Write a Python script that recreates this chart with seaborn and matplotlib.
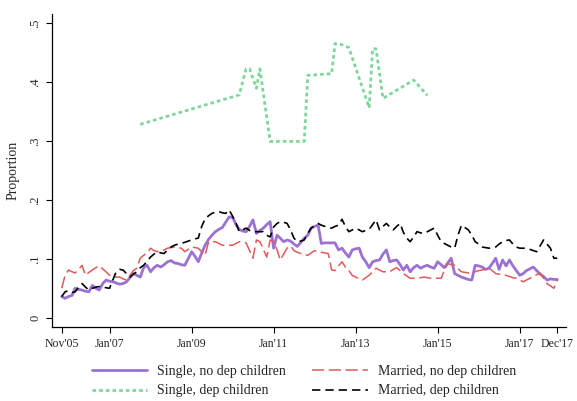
import numpy as np
import pandas as pd
import seaborn as sns
import matplotlib.pyplot as plt

# monthly series, Nov 2005 - Dec 2017
dates = pd.date_range("2005-11-01", "2017-12-01", freq="MS")

single_nodep = [
    .036, .033, .036, .038, .050, .048, .047, .045, .044, .055, .050, .047,
    .058, .064, .062, .061, .059, .057, .058, .061, .068, .075, .072, .069,
    .085, .089, .078, .085, .089, .086, .090, .095, .097, .093, .092, .090,
    .089, .100, .112, .104, .095, .110, .123, .133, .140, .146, .150, .153,
    .162, .171, .170, .158, .150, .147, .146, .155, .166, .143, .148, .152,
    .158, .163, .118, .140, .135, .129, .132, .130, .125, .121, .128, .135,
    .140, .152, .155, .157, .126, .127, .127, .127, .127, .115, .118, .110,
    .103, .115, .117, .118, .103, .095, .085, .095, .097, .098, .108, .115,
    .095, .097, .098, .090, .081, .089, .078, .085, .089, .084, .087, .089,
    .086, .084, .095, .090, .085, .093, .101, .075, .072, .069, .067, .065,
    .064, .089, .088, .086, .082, .084, .092, .101, .082, .098, .088, .098,
    .088, .080, .072, .075, .080, .083, .086, .080, .074, .070, .064, .066,
    .065, .065,
]

married_nodep = [
    .050, .072, .081, .078, .076, .082, .089, .072, .077, .081, .085, .088,
    .083, .078, .072, .069, .069, .069, .066, .064, .072, .080, .084, .101,
    .106, .110, .118, .114, .112, .114, .115, .118, .119, .120, .119, .118,
    .112, .116, .120, .119, .118, .112, .106, .129, .129, .129, .126, .123,
    .123, .123, .123, .126, .129, .128, .127, .114, .101, .132, .129, .116,
    .103, .132, .129, .115, .098, .108, .118, .122, .114, .111, .109, .107,
    .106, .110, .114, .112, .111, .110, .109, .081, .080, .088, .095, .086,
    .080, .072, .069, .066, .064, .068, .072, .078, .084, .081, .078, .078,
    .078, .082, .085, .080, .075, .071, .067, .067, .067, .068, .069, .068,
    .067, .067, .067, .067, .080, .092, .090, .089, .083, .078, .077, .076,
    .077, .078, .080, .081, .083, .084, .080, .075, .074, .073, .072, .070,
    .068, .067, .064, .061, .064, .067, .070, .073, .076, .067, .058, .054,
    .050, .064,
]

married_dep = [
    .036, .044, .046, .043, .044, .052, .058, .052, .047, .050, .052, .053,
    .052, .051, .050, .065, .078, .082, .081, .075, .069, .074, .078, .085,
    .089, .096, .103, .108, .112, .110, .109, .115, .120, .123, .125, .126,
    .128, .130, .132, .134, .135, .155, .168, .173, .177, .179, .180, .178,
    .177, .183, .172, .160, .146, .149, .152, .148, .146, .146, .146, .146,
    .140, .137, .154, .160, .163, .162, .160, .149, .135, .129, .130, .132,
    .143, .152, .156, .160, .157, .155, .153, .152, .155, .157, .167, .155,
    .146, .149, .152, .149, .146, .148, .150, .158, .166, .149, .155, .160,
    .154, .149, .155, .160, .145, .135, .129, .137, .146, .144, .143, .146,
    .149, .152, .140, .129, .126, .123, .120, .118, .140, .157, .153, .149,
    .140, .129, .125, .120, .119, .118, .119, .120, .125, .129, .131, .132,
    .125, .120, .118, .118, .118, .116, .114, .112, .122, .132, .125, .118,
    .101, .101,
]

# single with dependent children: only some months observed
single_dep_dates = [
    "2007-10", "2010-03", "2010-05", "2010-06", "2010-08", "2010-09",
    "2010-12", "2011-10", "2011-11", "2012-06", "2012-07", "2012-09",
    "2012-11", "2013-05", "2013-06", "2013-07", "2013-09", "2014-06",
    "2014-10",
]
single_dep = [
    .328, .378, .422, .422, .389, .422,
    .299, .299, .411, .414, .465, .463,
    .458, .356, .456, .456, .372, .403,
    .377,
]

tick_dates = ["2005-11", "2007-01", "2009-01", "2011-01", "2013-01",
              "2015-01", "2017-01", "2017-12"]
tick_labels = ["Nov'05", "Jan'07", "Jan'09", "Jan'11", "Jan'13",
               "Jan'15", "Jan'17", "Dec'17"]
y_ticks = [0, .1, .2, .3, .4, .5]
y_labels = ["0", ".1", ".2", ".3", ".4", ".5"]

sns.set_style("ticks")
plt.rcParams["font.family"] = ["Liberation Serif", "DejaVu Serif"]

fig = plt.figure(figsize=(5.77, 4.01), dpi=100)
ax = fig.add_axes([0.0906, 0.185, 0.890, 0.780])

sns.lineplot(x=dates, y=single_nodep, ax=ax, color="#9b72d4", lw=2.0,
             label="Single, no dep children")
sns.lineplot(x=pd.to_datetime(single_dep_dates), y=single_dep, ax=ax,
             color="#7fd69a", lw=2.0, linestyle=(0, (1.3, 1.1)),
             label="Single, dep children")
sns.lineplot(x=dates, y=married_nodep, ax=ax, color="#e05a5a", lw=1.1,
             linestyle=(0, (8, 3)), label="Married, no dep children")
sns.lineplot(x=dates, y=married_dep, ax=ax, color="black", lw=1.2,
             linestyle=(0, (5, 3)), label="Married, dep children")

ax.set_xlim(pd.Timestamp("2005-08-09"), pd.Timestamp("2018-02-15"))
ax.set_ylim(-0.0153, 0.515)
ax.set_xticks(pd.to_datetime(tick_dates))
ax.set_xticklabels(tick_labels, fontsize=8.5)
ax.set_yticks(y_ticks)
ax.set_yticklabels(y_labels, fontsize=9, rotation=90, va="center")
ax.set_xlabel("")
ax.set_ylabel("Proportion", fontsize=10, labelpad=7)
ax.tick_params(axis="both", direction="out", length=4, width=0.8,
               color="black", pad=4)
sns.despine(ax=ax)
for s in ["left", "bottom"]:
    ax.spines[s].set_linewidth(0.9)
    ax.spines[s].set_color("black")

ax.legend(loc="upper center", bbox_to_anchor=(0.49, -0.105), ncol=2,
          frameon=False, fontsize=10, handlelength=4, handletextpad=0.7,
          columnspacing=1.9, labelspacing=0.45, borderaxespad=0)

fig.savefig("out.png", dpi=100)
